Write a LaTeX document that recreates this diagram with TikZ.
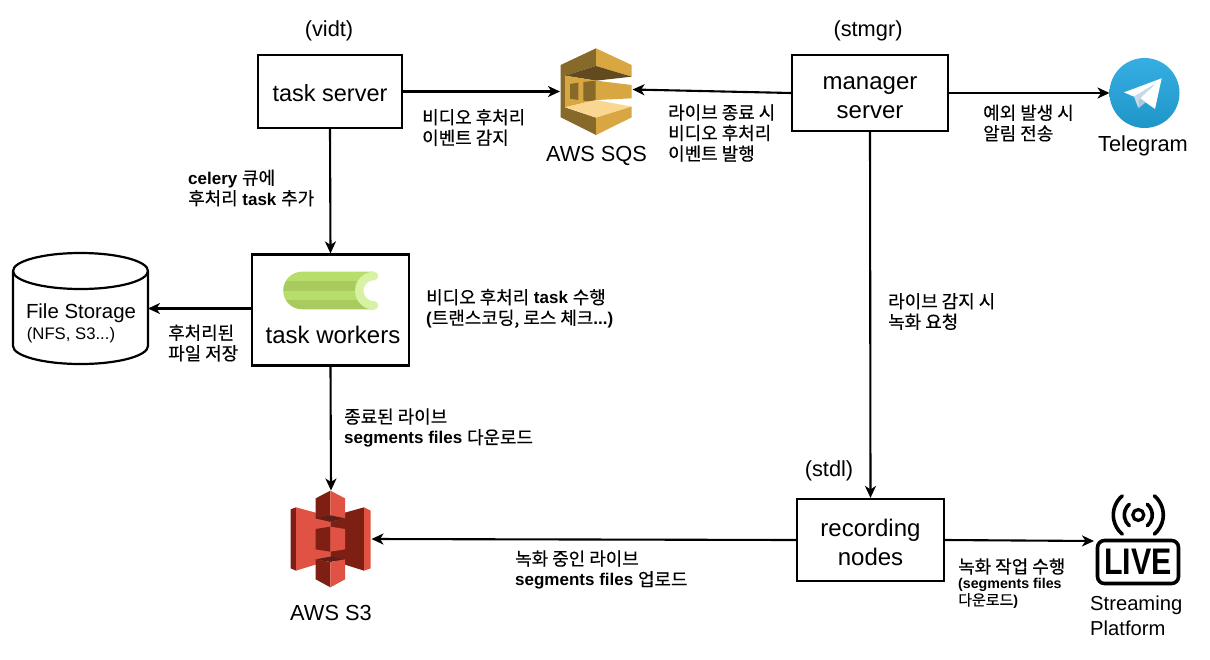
\documentclass[tikz,border=0pt]{standalone}
\usepackage{fontspec}
\setmainfont{Liberation Sans}
\newfontfamily\krfont[FakeBold=0.4,Scale=1.055]{Noto Sans CJK KR}
\newcommand{\K}[1]{{\krfont\mdseries #1}}
\usetikzlibrary{arrows.meta,shapes.geometric,calc}
\definecolor{sqsA}{HTML}{D9A741}
\definecolor{sqsB}{HTML}{876929}
\definecolor{sqsC}{HTML}{624A1E}
\definecolor{sqsD}{HTML}{FAD791}
\definecolor{sTa}{HTML}{E05243}
\definecolor{sTb}{HTML}{7E1F14}
\definecolor{sTc}{HTML}{5E1F18}
\definecolor{celeryA}{HTML}{B7DE6A}
\definecolor{celeryB}{HTML}{A9CB5E}
\definecolor{celeryC}{HTML}{D6F2A2}
\definecolor{tgA}{HTML}{37AEE2}
\definecolor{tgB}{HTML}{1E96C8}
\definecolor{tgC}{HTML}{C8DAEA}
\definecolor{tgD}{HTML}{A9C9DD}
\tikzset{
  box/.style={draw=black,line width=2.2pt,fill=white,inner sep=0pt,align=center,font=\fontsize{24}{29}\selectfont},
  ghost/.style={inner sep=0pt,outer sep=0pt},
  conn/.style={line width=2.1pt,-{Stealth[length=12pt,width=11pt,inset=3.5pt]}},
  lbl/.style={anchor=west,align=left,inner sep=0pt,yshift=-1.5pt,font=\fontsize{17}{20.6}\selectfont\bfseries},
  captext/.style={align=center,inner sep=0pt,font=\fontsize{21.8}{25}\selectfont},
  icon/.style={x=0.33333pt,y=-0.33333pt},
}
\begin{document}
\begin{tikzpicture}[x=1pt,y=-1pt]
\useasboundingbox (0,0) rectangle (1210,659);
\fill[white] (0,0) rectangle (1210,659);

% boxes
\node[box,minimum width=144pt,minimum height=73pt,font=\fontsize{23.5}{29}\selectfont] (tasksrv) at (330,91.5) {\rule{0pt}{20pt}task server};
\node[box,minimum width=156pt,minimum height=76pt] (mgr) at (870,93) {\rule{0pt}{22pt}manager\\server};
\node[box,minimum width=157pt,minimum height=111pt] (workers) at (330.5,310) {};
\node[box,minimum width=147pt,minimum height=82pt] (rec) at (870.5,540) {\rule{0pt}{22pt}recording\\nodes};
\node[ghost,font=\fontsize{24}{28}\selectfont] (workerstxt) at (333,335) {task workers};

% icon anchors
\node[ghost,minimum width=72pt,minimum height=87pt] (sqs) at (596,91.5) {};
\node[ghost,minimum width=81pt,minimum height=97pt] (s3) at (331,539) {};
\node[ghost,minimum width=70pt,minimum height=70pt] (tg) at (1144.5,93) {};
\coordinate (livein) at (1094,541);
\coordinate (sqsin) at (632.5,89.5);

% cylinder
\draw[line width=2.2pt,fill=white] (13,271) arc[start angle=180,end angle=0,x radius=67.5pt,y radius=18pt]
  -- (148,346) arc[start angle=0,end angle=-180,x radius=67.5pt,y radius=18pt] -- cycle;
\draw[line width=2.2pt] (13,271) arc[start angle=180,end angle=360,x radius=67.5pt,y radius=18pt];
\node[ghost,minimum width=135pt,minimum height=111pt] (fs) at (80.5,308.5) {};
\node[ghost,font=\fontsize{20.4}{24}\selectfont] (fst) at (81,313) {File Storage};
\node[ghost,font=\fontsize{16.7}{20}\selectfont] (fsn) at (71,335) {(NFS, S3...)};

% SQS icon
\begin{scope}[shift={(530,30)},icon]
\fill[sqsB] (198,55)--(92,105)--(92,262)--(198,315)--(198,263)--(105,232)--(105,137)--(198,108)--cycle;
\fill[sqsA] (198,55)--(305,105)--(305,140)--(198,108)--cycle;
\fill[sqsC] (105,137)--(198,108)--(305,140)--(198,152)--cycle;
\fill[sqsA] (105,137)--(198,152)--(198,210)--(105,232)--cycle;
\fill[sqsA] (198,152)--(305,165)--(305,205)--(198,210)--cycle;
\fill[sqsB] (120,162)--(145,158)--(145,210)--(120,206)--cycle;
\fill[sqsB] (160,156)--(197,152)--(197,215)--(160,212)--cycle;
\fill[sqsD] (105,232)--(198,210)--(305,230)--(198,263)--cycle;
\fill[sqsA] (198,263)--(305,230)--(305,262)--(198,315)--cycle;
\end{scope}

% S3 icon
\begin{scope}[shift={(270,480)},icon]
\fill[sTb] (62,88)--(78,82)--(78,272)--(62,265)--cycle;
\fill[sTa] (78,82)--(181,110)--(181,240)--(78,272)--cycle;
\fill[sTb] (181,110)--(282,82)--(282,272)--(181,240)--cycle;
\fill[sTa] (282,82)--(302,92)--(302,265)--(282,272)--cycle;
\fill[sTb] (137,55)--(181,32)--(181,125)--(137,115)--cycle;
\fill[sTa] (181,32)--(225,55)--(225,115)--(181,125)--cycle;
\fill[sTc] (137,115)--(181,106)--(225,115)--(181,125)--cycle;
\fill[sTb] (137,147)--(181,140)--(181,215)--(137,208)--cycle;
\fill[sTa] (181,140)--(225,147)--(225,208)--(181,215)--cycle;
\fill[sTc] (137,238)--(181,230)--(225,238)--(181,246)--cycle;
\fill[sTb] (137,238)--(181,246)--(181,322)--(137,298)--cycle;
\fill[sTa] (181,246)--(225,238)--(225,298)--(181,322)--cycle;
\end{scope}

% Telegram icon
\shade[top color=tgA,bottom color=tgB] (tg.center) circle[radius=35pt];
\begin{scope}[shift={(1090,50)},icon]
\fill[white] (215,85)--(102,127)--(132,140)--(195,102)--(150,145)--(195,177)--cycle;
\fill[tgC] (132,140)--(195,102)--(150,145)--(145,175)--cycle;
\fill[tgD] (150,145)--(145,175)--(167,157)--cycle;
\end{scope}

% celery icon
\begin{scope}
\clip (302,271.7) arc[start angle=90,end angle=270,radius=18.8pt] -- (374,309.3) -- (374,305.4)
  arc[start angle=270,end angle=90,radius=14.7pt] -- (374,271.7) -- cycle;
\fill[celeryA] (280,270) rectangle (380,281.2);
\fill[celeryB] (280,281.2) rectangle (380,290.7);
\fill[celeryA] (280,290.7) rectangle (380,300);
\fill[celeryB] (280,300) rectangle (380,311);
\end{scope}
\draw[celeryC,line width=8.5pt,line cap=round] (374,276) arc[start angle=90,end angle=270,radius=14.7pt];

% LIVE icon
\draw[line width=3.6pt,rounded corners=7pt] (1097.5,540.5) rectangle (1178.5,583.5);
\node[ghost,font=\fontsize{37}{37}\selectfont\bfseries,xscale=.82] (livet) at (1138,562) {LIVE};
\draw[line width=3.2pt] (1138.3,515) circle[radius=5.5pt];
\draw[line width=3.6pt,line cap=round]
  (1138.3,515) ++(130:14pt) arc[start angle=130,end angle=230,radius=14pt]
  (1138.3,515) ++(50:14pt) arc[start angle=50,end angle=-50,radius=14pt]
  (1138.3,515) ++(130:25pt) arc[start angle=130,end angle=230,radius=25pt]
  (1138.3,515) ++(50:25pt) arc[start angle=50,end angle=-50,radius=25pt];

% captions
\node[captext] (c1) at (329,31) {(vidt)};
\node[captext] (c2) at (868,31) {(stmgr)};
\node[captext] (c3) at (829,471) {(stdl)};
\node[captext] (c4) at (596.5,156) {AWS SQS};
\node[captext] (c5) at (1143,146) {Telegram};
\node[captext] (c6) at (331,613) {AWS S3};
\node[captext,align=left,anchor=west,font=\fontsize{20.2}{24.5}\selectfont] (c7) at (1090,616) {Streaming\\Platform};

% connectors
\draw[conn] (tasksrv.east) -- (sqs.west);
\draw[conn] (mgr.west) -- (sqsin);
\draw[conn] (mgr.east) -- (tg.west);
\draw[conn] (tasksrv.south) -- (workers.north);
\draw[conn] (workers.west |- fs.east) -- (fs.east);
\draw[conn] (workers.south) -- (s3.north);
\draw[conn] (mgr.south) -- (rec.north);
\draw[conn] (rec.west) -- (s3.east);
\draw[conn] (rec.east) -- (livein);

% labels
\node[lbl] (l1) at (422,126) {\K{비디오 후처리}\\\K{이벤트 감지}};
\node[lbl] (l2) at (188,186.5) {celery \K{큐에}\\\K{후처리} task \K{추가}};
\node[lbl] (l3) at (668,131.5) {\K{라이브 종료 시}\\\K{비디오 후처리}\\\K{이벤트 발행}};
\node[lbl] (l4) at (983,121.5) {\K{예외 발생 시}\\\K{알림 전송}};
\node[lbl] (l5) at (426,307) {\K{비디오 후처리} task \K{수행}\\(\K{트랜스코딩, 로스 체크}...)};
\node[lbl] (l6) at (168,341.5) {\K{후처리된}\\\K{파일 저장}};
\node[lbl] (l7) at (888,310) {\K{라이브 감지 시}\\\K{녹화 요청}};
\node[lbl] (l8) at (344,426.5) {\K{종료된 라이브}\\segments files \K{다운로드}};
\node[lbl] (l9) at (515,568.5) {\K{녹화 중인 라이브}\\segments files \K{업로드}};
\node[lbl] (l10) at (958,565) {\K{녹화 작업 수행}};
\node[lbl,font=\fontsize{14.2}{16.5}\selectfont\bfseries] (l11) at (958,592) {(segments files\\\K{다운로드})};
\end{tikzpicture}
\end{document}
